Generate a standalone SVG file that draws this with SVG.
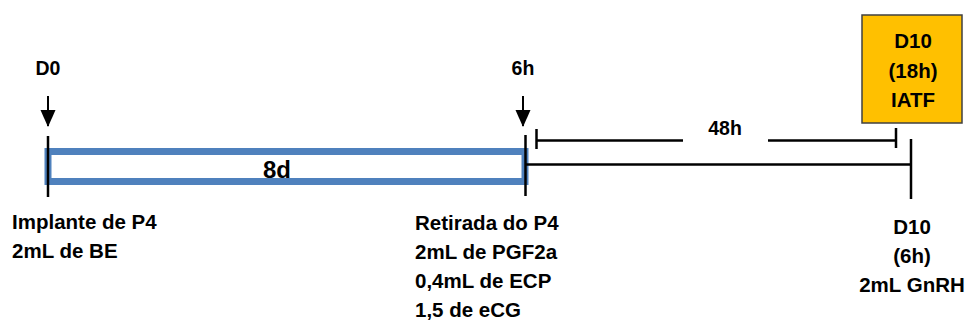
<svg xmlns="http://www.w3.org/2000/svg" width="965" height="322" viewBox="0 0 965 322">
<defs>
<style>
text{font-family:"Liberation Sans",Arial,sans-serif;font-weight:bold;fill:#000}
.lbl{font-size:20.5px}
.top{font-size:19.5px}
.ln{stroke:#000;stroke-width:2.5;fill:none}
</style>
</defs>
<g id="bar">
<rect x="48" y="151.5" width="477" height="30" fill="#fff" stroke="#4F81BD" stroke-width="7"/>
<text x="277" y="178" text-anchor="middle" style="font-size:24px">8d</text>
</g>
<g id="connectors">
<line class="ln" x1="48" y1="136" x2="48" y2="197"/>
<line class="ln" x1="525.5" y1="135" x2="525.5" y2="196"/>
<line class="ln" x1="526" y1="164.5" x2="911" y2="164.5"/>
<line class="ln" x1="911" y1="139" x2="911" y2="199"/>
<line class="ln" x1="536.5" y1="129" x2="536.5" y2="149"/>
<line class="ln" x1="536" y1="140.5" x2="683" y2="140.5"/>
<line class="ln" x1="768" y1="140.5" x2="896" y2="140.5"/>
<line class="ln" x1="896" y1="128" x2="896" y2="148"/>
<path d="M48,96 V126" stroke="#000" stroke-width="2"/>
<path d="M40.5,110 L55.5,110 L48,127 Z" fill="#000"/>
<path d="M523,96 V126" stroke="#000" stroke-width="2"/>
<path d="M515.5,110 L530.5,110 L523,127 Z" fill="#000"/>
</g>
<g id="d0">
<text class="top" x="48" y="75" text-anchor="middle">D0</text>
<text class="lbl" x="12" y="229">Implante de P4</text>
<text class="lbl" x="12" y="258">2mL de BE</text>
</g>
<g id="h6">
<text class="top" x="523" y="75" text-anchor="middle">6h</text>
<text class="lbl" x="415" y="230">Retirada do P4</text>
<text class="lbl" x="415" y="259">2mL de PGF2a</text>
<text class="lbl" x="415" y="288">0,4mL de ECP</text>
<text class="lbl" x="415" y="317">1,5 de eCG</text>
</g>
<g id="h48">
<text class="top" x="725" y="135" text-anchor="middle">48h</text>
</g>
<g id="iatf">
<rect x="862" y="15" width="100" height="108" fill="#FFC000" stroke="#404040" stroke-width="1.5"/>
<text class="lbl" x="913" y="48" text-anchor="middle">D10</text>
<text class="lbl" x="913" y="78" text-anchor="middle">(18h)</text>
<text class="lbl" x="913" y="107" text-anchor="middle">IATF</text>
</g>
<g id="d10">
<text class="lbl" x="912" y="234" text-anchor="middle">D10</text>
<text class="lbl" x="912" y="263" text-anchor="middle">(6h)</text>
<text class="lbl" x="912" y="292" text-anchor="middle">2mL GnRH</text>
</g>
</svg>
